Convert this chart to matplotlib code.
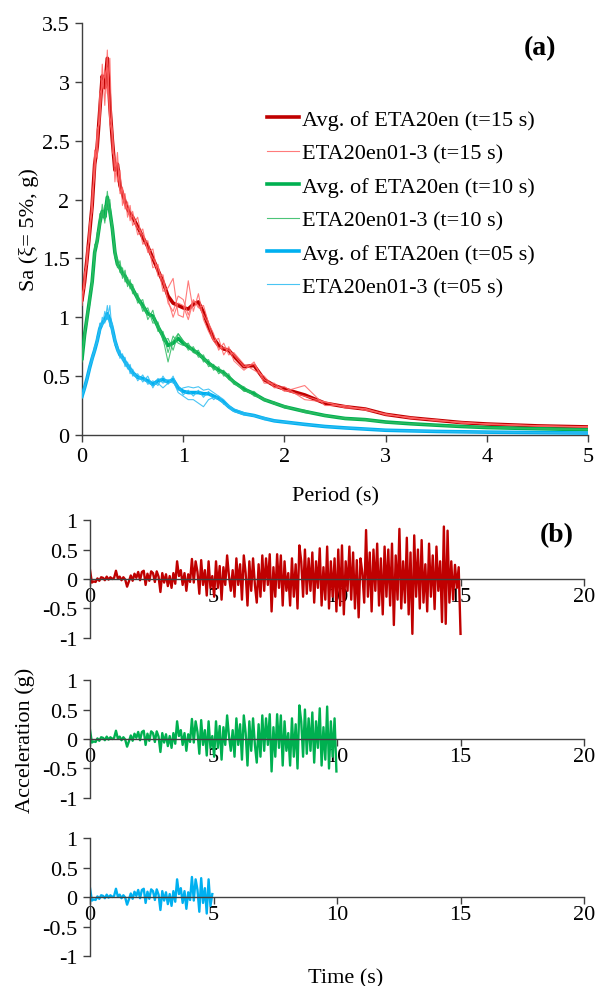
"""
Response spectra (a) and acceleration time histories (b) of ETA20en records
"""
import numpy as np
import matplotlib
matplotlib.use('Agg')
import matplotlib.pyplot as plt
from matplotlib.ticker import FuncFormatter

plt.rcParams['font.family'] = ['Liberation Serif', 'DejaVu Serif']
plt.rcParams['axes.linewidth'] = 1.0

# ---- (a) spectra data ----
period = [0, 0.025, 0.05, 0.075, 0.1, 0.125, 0.15, 0.175, 0.2, 0.225, 0.25, 0.275, 0.3, 0.325, 0.35,
          0.375, 0.4, 0.425, 0.45, 0.475, 0.5,
          0.55, 0.6, 0.65, 0.7, 0.75, 0.8, 0.85, 0.9, 0.95, 1.0, 1.05, 1.1, 1.15, 1.2, 1.25, 1.3,
          1.35, 1.4, 1.45, 1.5,
          1.6, 1.7, 1.8, 1.9, 2.0, 2.2, 2.4, 2.6, 2.8, 3.0, 3.25, 3.5, 3.75, 4.0, 4.5, 5.0]

red_avg = [1.15, 1.30, 1.50, 1.72, 1.95, 2.30, 2.45, 2.75, 3.05, 2.95, 3.20, 2.80, 2.50, 2.25, 2.30, 2.12, 2.05, 1.98, 1.92, 1.88, 1.85,
           1.77, 1.68, 1.60, 1.50, 1.40, 1.30, 1.18, 1.12, 1.10, 1.08, 1.07, 1.11, 1.13, 1.04, 0.92, 0.82, 0.76, 0.73, 0.72, 0.67,
           0.58, 0.59, 0.47, 0.42, 0.39, 0.34, 0.27, 0.24, 0.22, 0.175, 0.145, 0.125, 0.105, 0.093, 0.077, 0.068]
red_r1 = [1.10, 1.38, 1.45, 1.80, 1.90, 2.42, 2.35, 2.90, 2.95, 3.10, 2.90, 3.20, 2.40, 2.35, 2.15, 2.25, 1.95, 2.05, 1.85, 1.95, 1.78,
          1.85, 1.62, 1.65, 1.42, 1.45, 1.22, 1.25, 1.33, 1.02, 1.00, 1.31, 1.05, 1.20, 0.98, 0.88, 0.80, 0.82, 0.68, 0.75, 0.63,
          0.55, 0.62, 0.44, 0.44, 0.37, 0.42, 0.25, 0.25, 0.21, 0.18, 0.14, 0.13, 0.10, 0.095, 0.078, 0.07]
red_r2 = [1.20, 1.25, 1.58, 1.65, 2.05, 2.20, 2.60, 2.65, 3.15, 2.80, 3.27, 2.70, 2.60, 2.15, 2.40, 2.05, 2.10, 1.92, 1.98, 1.82, 1.90,
          1.70, 1.75, 1.55, 1.58, 1.35, 1.36, 1.12, 1.05, 1.18, 1.15, 1.02, 1.15, 1.08, 1.10, 0.95, 0.86, 0.72, 0.78, 0.68, 0.70,
          0.60, 0.55, 0.50, 0.40, 0.41, 0.30, 0.28, 0.23, 0.225, 0.17, 0.15, 0.12, 0.11, 0.09, 0.076, 0.066]
red_r3 = [1.13, 1.32, 1.48, 1.75, 1.92, 2.28, 2.50, 2.70, 3.00, 3.05, 3.12, 2.65, 2.55, 2.28, 2.32, 2.08, 2.08, 1.96, 1.92, 1.86, 1.86,
          1.76, 1.70, 1.58, 1.50, 1.42, 1.30, 1.15, 1.00, 1.12, 1.10, 0.98, 1.14, 1.10, 1.02, 0.94, 0.80, 0.74, 0.74, 0.72, 0.68,
          0.58, 0.60, 0.47, 0.42, 0.38, 0.33, 0.28, 0.24, 0.22, 0.175, 0.145, 0.125, 0.105, 0.094, 0.077, 0.068]

green_avg = [0.65, 0.85, 1.00, 1.15, 1.30, 1.55, 1.65, 1.80, 1.90, 1.85, 2.02, 1.90, 1.75, 1.55, 1.45, 1.42, 1.37, 1.35, 1.30, 1.28, 1.24,
             1.16, 1.10, 1.03, 1.01, 0.92, 0.84, 0.76, 0.78, 0.82, 0.78, 0.75, 0.72, 0.69, 0.65, 0.61, 0.58, 0.55, 0.53, 0.49, 0.45,
             0.39, 0.35, 0.30, 0.27, 0.24, 0.20, 0.165, 0.14, 0.13, 0.11, 0.095, 0.083, 0.072, 0.063, 0.053, 0.045]
green_r1 = [0.62, 0.88, 0.95, 1.20, 1.25, 1.62, 1.60, 1.88, 1.85, 1.95, 1.92, 2.00, 1.70, 1.60, 1.42, 1.48, 1.33, 1.40, 1.26, 1.32, 1.20,
            1.20, 1.05, 1.08, 0.95, 0.96, 0.80, 0.82, 0.72, 0.86, 0.80, 0.72, 0.75, 0.66, 0.68, 0.58, 0.60, 0.52, 0.55, 0.47, 0.46,
            0.37, 0.37, 0.29, 0.28, 0.23, 0.21, 0.16, 0.145, 0.125, 0.11, 0.094, 0.084, 0.071, 0.064, 0.052, 0.046]
green_r2 = [0.68, 0.82, 1.05, 1.10, 1.35, 1.50, 1.72, 1.75, 1.96, 1.80, 2.07, 1.85, 1.80, 1.50, 1.50, 1.38, 1.42, 1.30, 1.34, 1.24, 1.28,
            1.12, 1.15, 0.98, 1.06, 0.88, 0.88, 0.70, 0.84, 0.78, 0.76, 0.78, 0.70, 0.72, 0.62, 0.64, 0.55, 0.58, 0.50, 0.52, 0.43,
            0.41, 0.33, 0.31, 0.26, 0.25, 0.19, 0.17, 0.135, 0.135, 0.105, 0.096, 0.082, 0.073, 0.062, 0.054, 0.044]
green_r3 = [0.65, 0.85, 1.00, 1.16, 1.30, 1.55, 1.64, 1.78, 1.90, 1.82, 2.00, 1.88, 1.74, 1.56, 1.44, 1.40, 1.36, 1.34, 1.30, 1.27, 1.24,
            1.16, 1.09, 1.02, 1.00, 0.92, 0.82, 0.62, 0.80, 0.86, 0.80, 0.76, 0.70, 0.68, 0.65, 0.60, 0.57, 0.54, 0.52, 0.48, 0.44,
            0.38, 0.34, 0.30, 0.27, 0.24, 0.20, 0.165, 0.14, 0.13, 0.11, 0.095, 0.083, 0.072, 0.063, 0.053, 0.045]

blue_avg = [0.33, 0.40, 0.48, 0.57, 0.65, 0.72, 0.80, 0.90, 0.95, 0.98, 1.03, 0.98, 0.90, 0.80, 0.73, 0.68, 0.66, 0.62, 0.59, 0.56, 0.53,
            0.49, 0.48, 0.46, 0.43, 0.46, 0.47, 0.45, 0.47, 0.40, 0.37, 0.36, 0.36, 0.36, 0.35, 0.35, 0.33, 0.31, 0.28, 0.24, 0.21,
            0.18, 0.165, 0.14, 0.12, 0.11, 0.09, 0.072, 0.06, 0.05, 0.04, 0.035, 0.03, 0.027, 0.024, 0.02, 0.016]
blue_r1 = [0.31, 0.42, 0.46, 0.60, 0.62, 0.76, 0.78, 0.95, 0.92, 1.05, 0.98, 1.10, 0.85, 0.84, 0.70, 0.72, 0.63, 0.66, 0.56, 0.60, 0.50,
           0.52, 0.45, 0.50, 0.40, 0.48, 0.44, 0.47, 0.44, 0.42, 0.34, 0.38, 0.33, 0.38, 0.32, 0.37, 0.30, 0.33, 0.26, 0.25, 0.20,
           0.17, 0.17, 0.13, 0.125, 0.105, 0.092, 0.07, 0.062, 0.05, 0.041, 0.034, 0.031, 0.026, 0.025, 0.02, 0.017]
blue_r2 = [0.35, 0.38, 0.50, 0.55, 0.68, 0.70, 0.84, 0.86, 1.00, 0.95, 1.10, 0.92, 0.95, 0.76, 0.76, 0.65, 0.69, 0.58, 0.62, 0.52, 0.56,
           0.46, 0.51, 0.43, 0.46, 0.42, 0.50, 0.43, 0.50, 0.38, 0.40, 0.41, 0.40, 0.41, 0.38, 0.39, 0.36, 0.33, 0.30, 0.25, 0.22,
           0.19, 0.16, 0.15, 0.115, 0.115, 0.088, 0.074, 0.058, 0.052, 0.039, 0.036, 0.029, 0.028, 0.023, 0.021, 0.015]
blue_r3 = [0.33, 0.40, 0.48, 0.57, 0.64, 0.72, 0.79, 0.90, 0.94, 0.97, 1.02, 0.96, 0.88, 0.80, 0.72, 0.68, 0.65, 0.62, 0.58, 0.56, 0.52,
           0.49, 0.47, 0.45, 0.42, 0.44, 0.40, 0.44, 0.46, 0.36, 0.33, 0.30, 0.30, 0.27, 0.24, 0.30, 0.32, 0.30, 0.27, 0.23, 0.20,
           0.18, 0.16, 0.14, 0.12, 0.11, 0.09, 0.072, 0.06, 0.05, 0.04, 0.035, 0.03, 0.027, 0.024, 0.02, 0.016]

# ---- (b) acceleration history (g), sampled every 0.075 s over 0-15 s ----
accel = [0.15, -0.06, -0.04, -0.05, 0.01, -0.03, 0.03, 0.02, -0.02, 0.04, -0.01, 0.03, 0.0, 0.02,
         0.14, 0.01, 0.04, -0.02, 0.03, -0.01, -0.13, -0.04, 0.06, -0.03, 0.09, 0.02, 0.12,
         -0.02, 0.12, 0.14, -0.1, 0.09, -0.03, 0.13, 0.1, -0.05, 0.13, 0.04, -0.22, 0.1,
         -0.06, 0.08, -0.12, 0.05, -0.15, 0.1, -0.08, 0.3, 0.05, 0.15, -0.1, 0.1, -0.2, 0.08,
         -0.05, 0.34, -0.06, 0.3, 0.12, -0.25, 0.32, -0.1, 0.15, -0.28, 0.3, -0.15, 0.05,
         -0.3, 0.3, -0.15, 0.22, -0.35, 0.2, -0.1, 0.4, 0.05, -0.2, 0.15, -0.3, 0.35,
         -0.1, 0.25, -0.35, 0.4, 0.1, -0.45, 0.3, -0.2, 0.35, -0.1, -0.4, 0.25, -0.3, 0.4,
         -0.2, 0.35, -0.1, 0.42, -0.55, 0.2, -0.3, 0.42, -0.15, 0.4, -0.45, 0.3, -0.2,
         0.1, -0.45, 0.35, -0.3, 0.25, -0.5, 0.57, 0.3, -0.3, 0.5, -0.25, 0.35, -0.2,
         0.45, -0.4, 0.3, -0.15, 0.52, -0.45, 0.2, -0.35, 0.55, -0.5, 0.3, -0.3, 0.35, -0.55,
         0.5, -0.45, 0.57, -0.6, 0.3, -0.2, 0.55, -0.35, 0.45, -0.5, 0.32, -0.65, 0.35,
         0.1, -0.4, 0.83, -0.3, 0.45, -0.55, 0.5, -0.2, 0.6, -0.45, 0.35, -0.6, 0.55,
         -0.3, 0.5, -0.45, 0.6, -0.78, 0.4, -0.35, 0.85, -0.5, 0.3, -0.4, 0.7, -0.6, 0.45,
         -0.93, 0.74, -0.3, 0.5, -0.5, 0.66, -0.4, 0.25, -0.55, 0.6, -0.3, 0.4, -0.51,
         0.55, -0.2, 0.3, -0.73, 0.89, -0.76, 0.82, -0.4, 0.3, -0.35, 0.24, -0.15, 0.2, -0.93]
durations = [15, 10, 5]

RED, RED_THIN = '#C00000', '#FF6464'
GREEN, GREEN_THIN = '#00B050', '#2CBA60'
BLUE, BLUE_THIN = '#00B0F0', '#2ABBF2'
AXIS_COL = '#404040'

TICK_FS = 16
LABEL_FS = 16
fmt = FuncFormatter(lambda v, p: '%g' % v)


def style_axis(a):
    for s in ['top', 'right']:
        a.spines[s].set_visible(False)
    for s in ['left', 'bottom']:
        a.spines[s].set_color(AXIS_COL)
    a.tick_params(direction='out', length=5, width=1, color=AXIS_COL, labelsize=TICK_FS)
    a.xaxis.set_major_formatter(fmt)
    a.yaxis.set_major_formatter(fmt)


fig = plt.figure(figsize=(5.97, 9.87), dpi=100)

# ---------- (a) ----------
ax = fig.add_axes([0.1374, 0.5583, 0.8476, 0.4174])
groups = [
    (red_avg, [red_r1, red_r2, red_r3], RED, RED_THIN, '15'),
    (green_avg, [green_r1, green_r2, green_r3], GREEN, GREEN_THIN, '10'),
    (blue_avg, [blue_r1, blue_r2, blue_r3], BLUE, BLUE_THIN, '05'),
]
handles = []
for avg, recs, c_avg, c_thin, dur in groups:
    h1, = ax.plot(period, avg, color=c_avg, lw=2.6, label='Avg. of ETA20en (t=%s s)' % dur, zorder=3)
    h2 = None
    for r in recs:
        h2, = ax.plot(period, r, color=c_thin, lw=0.8, alpha=0.85,
                      label='ETA20en01-3 (t=%s s)' % dur, zorder=4)
    handles += [h1, h2]

ax.set_xlim(0, 5)
ax.set_ylim(0, 3.5)
ax.set_xticks(np.arange(0, 5.1, 1))
ax.set_yticks(np.arange(0, 3.51, 0.5))
style_axis(ax)
ax.tick_params(pad=4)
ax.set_xlabel('Period (s)', fontsize=LABEL_FS, labelpad=14)
ax.set_ylabel('Sa (ξ= 5%, g)', fontsize=LABEL_FS)
ax.yaxis.set_label_coords(-0.085, 0.5)
ax.text(0.905, 0.94, '(a)', transform=ax.transAxes, fontsize=20, fontweight='bold',
        ha='center', va='center')

leg = ax.legend(handles=handles, loc='upper left', bbox_to_anchor=(0.366, 0.79),
                frameon=False, fontsize=16, handlelength=1.45, handletextpad=0.1,
                labelspacing=0.58, borderaxespad=0, borderpad=0)

# ---------- (b) ----------
t = np.linspace(0, 15, len(accel))
acc = np.array(accel)
colors_b = [RED, GREEN, BLUE]
bottoms = [0.3526, 0.1905, 0.0304]
height = 0.1195
for k, (dur, col, b) in enumerate(zip(durations, colors_b, bottoms)):
    axb = fig.add_axes([0.1508, b, 0.8275, height])
    m = t <= dur + 1e-9
    axb.plot(t[m], acc[m], color=col, lw=1.7)
    axb.set_xlim(0, 20)
    axb.set_ylim(-1, 1)
    axb.set_xticks([0, 5, 10, 15, 20])
    axb.set_yticks([-1, -0.5, 0, 0.5, 1])
    style_axis(axb)
    axb.spines['bottom'].set_position(('data', 0))
    axb.tick_params(axis='x', pad=1)
    axb.tick_params(axis='y', pad=4)
    if k == 0:
        axb.text(0.945, 0.88, '(b)', transform=axb.transAxes, fontsize=20, fontweight='bold',
                 ha='center', va='center')
    if k == 1:
        axb.set_ylabel('Acceleration (g)', fontsize=LABEL_FS)
        axb.yaxis.set_label_coords(-0.112, 0.5)

fig.text(0.5785, 0.008, 'Time (s)', fontsize=LABEL_FS, ha='center', va='center')

plt.savefig('out.png', dpi=100)
plt.close()
